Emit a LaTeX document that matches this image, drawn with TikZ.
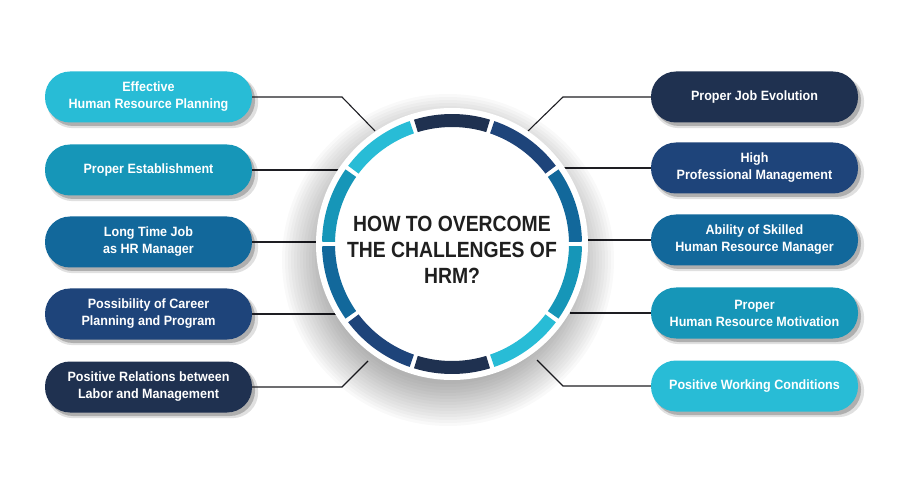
\documentclass[tikz,border=0pt]{standalone}
\usepackage{fontspec}
\setmainfont{Liberation Sans}
\newfontfamily\boxfont{Liberation Sans}[FakeStretch=0.93]
\newfontfamily\titlefont{Liberation Sans}[FakeStretch=0.88]
\usetikzlibrary{shadows}
\definecolor{ccyan}{RGB}{40,188,214}
\definecolor{cteal}{RGB}{22,150,184}
\definecolor{cblue}{RGB}{18,104,155}
\definecolor{cnavy}{RGB}{30,68,122}
\definecolor{cdark}{RGB}{31,49,80}
\definecolor{linec}{RGB}{30,30,35}
\tikzset{
  pill/.style={rounded corners=25pt, minimum width=207pt, minimum height=51pt,
    text=white, align=center, inner sep=0pt,
    font=\boxfont\bfseries\fontsize{13.5}{17}\selectfont,
    general shadow={shadow xshift=4pt, shadow yshift=-5pt, shadow scale=1.02, fill=black, opacity=0.12},
    general shadow={shadow xshift=3pt, shadow yshift=-3.5pt, fill=black, opacity=0.22}},
  conn/.style={draw=linec, line width=1.1pt},
  titletext/.style={align=center, text=black!88, inner sep=0pt,
    font=\titlefont\bfseries\fontsize{22}{26}\selectfont}
}
\begin{document}
\begin{tikzpicture}[x=1pt,y=1pt]
\useasboundingbox (0,0) rectangle (900,488);
% boxes
\node[pill,fill=ccyan] (L1) at (148.5,391) {Effective\\Human Resource Planning};
\node[pill,fill=cteal] (L2) at (148.5,318) {Proper Establishment};
\node[pill,fill=cblue] (L3) at (148.5,246) {Long Time Job\\as HR Manager};
\node[pill,fill=cnavy] (L4) at (148.5,174) {Possibility of Career\\Planning and Program};
\node[pill,fill=cdark] (L5) at (148.5,101) {Positive Relations between\\Labor and Management};
\node[pill,fill=cdark] (R1) at (754.5,391) {Proper Job Evolution};
\node[pill,fill=cnavy] (R2) at (754.5,320) {High\\Professional Management};
\node[pill,fill=cblue] (R3) at (754.5,248) {Ability of Skilled\\Human Resource Manager};
\node[pill,fill=cteal] (R4) at (754.5,175) {Proper\\Human Resource Motivation};
\node[pill,fill=ccyan] (R5) at (754.5,102) {Positive Working Conditions};
% connector points
\coordinate (k1) at (342,391); \coordinate (e1) at (375,357);
\coordinate (e2) at (345,318);
\coordinate (e3) at (325,246);
\coordinate (e4) at (340,174);
\coordinate (k5) at (342,101); \coordinate (e5) at (368,127);
\coordinate (k6) at (563,391); \coordinate (e6) at (528,357);
\coordinate (e7) at (560,320);
\coordinate (e8) at (580,248);
\coordinate (e9) at (570,175);
\coordinate (k10) at (563,102); \coordinate (e10) at (537,128);
\draw[conn] (L1.east) -- (k1) -- (e1);
\draw[conn] (L2.east) -- (e2);
\draw[conn] (L3.east) -- (e3);
\draw[conn] (L4.east) -- (e4);
\draw[conn] (L5.east) -- (k5) -- (e5);
\draw[conn] (R1.west) -- (k6) -- (e6);
\draw[conn] (R2.west) -- (e7);
\draw[conn] (R3.west) -- (e8);
\draw[conn] (R4.west) -- (e9);
\draw[conn] (R5.west) -- (k10) -- (e10);
% circle shadow
\foreach \r in {124,127,...,166} {
  \fill[black, opacity=0.024] (448,228) circle[radius=\r];
}
% white disk
\fill[white] (452,244) circle[radius=136];
% ring segments
\begin{scope}[shift={(452,244)}]
\foreach \a/\c in {72/cdark,108/ccyan,144/cteal,180/cblue,216/cnavy,252/cdark,288/ccyan,324/cteal,0/cblue,36/cnavy} {
  \fill[\c] (\a+1:130) arc[start angle=\a+1, end angle=\a+35, radius=130]
     -- (\a+35:117) arc[start angle=\a+35, end angle=\a+1, radius=117] -- cycle;
}
\end{scope}
\node[titletext] (T) at (452,238) {HOW TO OVERCOME\\THE CHALLENGES OF\\HRM?};
\end{tikzpicture}
\end{document}
